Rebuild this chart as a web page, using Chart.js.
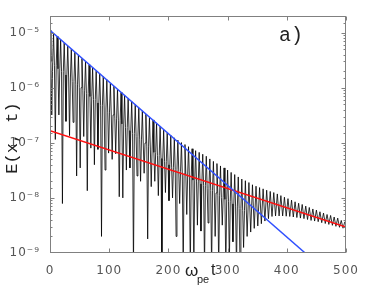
<!DOCTYPE html>
<html>
<head>
<meta charset="utf-8">
<script src="https://cdn.jsdelivr.net/npm/chart.js@4.4.0/dist/chart.umd.min.js"></script>
<style>
html,body{margin:0;padding:0;background:#fff;}
#wrap{width:381px;height:307px;}
</style>
</head>
<body>
<div id="wrap"><canvas id="fieldChart" width="381" height="307"></canvas></div>
<script>
// |E(x,t)|: hump tops, dips between them,
// and the level where each dip leaves the dark band (early part only)
const peakT = [
0,6,12,18,24,30,36,42,48,54,
60,66,72,78,84,90,96,102,108,114,
120,126,132,138,144,150,156,162,168,174,
180,186,192,198,204,210,216,222,228,234,
240,246,252,258,264,270,276,282,288,294,
300,306,312,318,324,330,336,342,348,354,
360,366,372,378,384,390,396,402,408,414,
420,426,432,438,444,450,456,462,468,474,
480,486,492,498
];
const peakE = [
1.10e-5,9.6e-6,8.5e-6,7.4e-6,6.5e-6,5.7e-6,5.0e-6,4.4e-6,3.9e-6,3.4e-6,
3.0e-6,2.6e-6,2.3e-6,2.0e-6,1.8e-6,1.6e-6,1.4e-6,1.2e-6,1.07e-6,9.4e-7,
8.2e-7,7.2e-7,6.4e-7,5.6e-7,4.9e-7,4.3e-7,3.8e-7,3.3e-7,2.9e-7,2.6e-7,
2.3e-7,2.0e-7,1.7e-7,1.5e-7,1.37e-7,1.23e-7,1.12e-7,1.01e-7,9.3e-8,8.5e-8,
7.8e-8,7.2e-8,6.7e-8,6.2e-8,5.7e-8,5.1e-8,4.6e-8,4.2e-8,3.8e-8,3.5e-8,
3.2e-8,2.9e-8,2.65e-8,2.4e-8,2.2e-8,2.05e-8,1.9e-8,1.73e-8,1.63e-8,1.54e-8,
1.46e-8,1.38e-8,1.31e-8,1.25e-8,1.18e-8,1.10e-8,1.03e-8,9.7e-9,9.1e-9,8.5e-9,
8.0e-9,7.6e-9,7.1e-9,6.7e-9,6.3e-9,6.0e-9,5.6e-9,5.3e-9,5.0e-9,4.8e-9,
4.5e-9,4.3e-9,3.9e-9,3.7e-9
];
const dipT = [
3,9,15,21,27,33,39,45,51,57,
63,69,75,81,87,93,99,105,111,117,
123,129,135,141,147,153,159,165,171,177,
183,189,195,201,207,213,219,225,231,237,
243,249,255,261,267,273,279,285,291,297,
303,309,315,321,327,333,339,345,351,357,
363,369,375,381,387,393,399,405,411,417,
423,429,435,441,447,453,459,465,471,477,
483,489,495
];
const dipE = [
3.2e-7,1.15e-7,3.2e-7,7.9e-9,2.45e-7,1.35e-7,2.35e-7,2.5e-8,3.5e-8,1.3e-7,
1.35e-8,8.0e-8,4.0e-8,7.6e-8,2.0e-9,3.2e-8,6.5e-8,5.0e-8,6.3e-8,1.05e-8,
1.0e-8,3.2e-8,3.5e-8,5e-10,2.5e-8,2.0e-8,2.8e-8,1.8e-9,1.6e-8,2.0e-8,
1.1e-8,5e-10,1.25e-8,8.9e-9,1.0e-8,2.0e-9,7.9e-9,5e-10,5.0e-9,5e-10,
6e-10,3.2e-9,2.5e-9,5e-10,3.5e-9,5e-10,2.0e-9,5e-10,3.2e-9,5e-10,
7e-10,1.6e-9,5e-10,6e-10,1.26e-9,2.0e-9,2.4e-9,2.8e-9,3.1e-9,3.4e-9,
3.8e-9,4.2e-9,4.6e-9,4.7e-9,4.7e-9,4.7e-9,4.65e-9,4.6e-9,4.5e-9,4.4e-9,
4.3e-9,4.2e-9,4.05e-9,3.9e-9,3.8e-9,3.7e-9,3.55e-9,3.43e-9,3.3e-9,3.18e-9,
3.05e-9,2.93e-9,2.82e-9
];
const dipEdgeE = [
2.9e-6,2.5e-6,2.2e-6,1.95e-6,1.7e-6,1.5e-6,1.3e-6,1.16e-6,1.0e-6,9.0e-7,
7.9e-7,6.9e-7,6.1e-7,5.3e-7,4.7e-7,4.1e-7,3.6e-7,3.2e-7,2.8e-7,2.5e-7,
2.2e-7,1.9e-7,1.67e-7,1.47e-7,1.29e-7,1.13e-7,9.9e-8,8.7e-8,7.7e-8,6.7e-8,
5.9e-8,5.2e-8,4.6e-8,4.0e-8,3.6e-8,3.3e-8,3.0e-8,2.7e-8,2.5e-8,2.3e-8,
2.1e-8,1.95e-8,1.8e-8,1.67e-8,1.5e-8,1.36e-8,1.23e-8,1.12e-8,1.02e-8,9.4e-9,
8.5e-9,7.8e-9,7.1e-9,6.4e-9,5.9e-9
];
const dipHalfWidth = 1.5; // in omega_pe t

// fitted decay lines
const fastFitT = [0, 431];
const fastFitE = [1.1e-5, 1.0e-9];
const slowFitT = [0, 500];
const slowFitE = [1.66e-7, 2.95e-9];

const xTicks = [0, 100, 200, 300, 400, 500];

function signalPoints(){
let pts = [];
peakT.forEach((t,i)=>{
pts.push({x:t, y:peakE[i]});
if(i<dipT.length){
const edge = dipEdgeE[i];
if(edge!==undefined){
pts.push({x:dipT[i]-dipHalfWidth, y:edge});
pts.push({x:dipT[i], y:dipE[i]});
pts.push({x:dipT[i]+dipHalfWidth, y:edge});
}else{
pts.push({x:dipT[i], y:dipE[i]});
}
}
});
return pts;
}

function toPoints(ts, es){
return ts.map((t,i)=>({x:t, y:es[i]}));
}

const supMap = {'-':'\u207B','0':'\u2070','1':'\u00B9','2':'\u00B2','3':'\u00B3','4':'\u2074','5':'\u2075','6':'\u2076','7':'\u2077','8':'\u2078','9':'\u2079'};

function isDecade(v){
const l = Math.log10(v);
return Math.abs(l-Math.round(l))<1e-6;
}

const decor = {
id:'decor',
beforeDraw(chart){
chart.ctx.letterSpacing = '1px';
},
afterDraw(chart){
const ctx = chart.ctx;
const a = chart.chartArea;
const xs = chart.scales.x, ys = chart.scales.y;
ctx.save();
ctx.letterSpacing = '0px';
ctx.strokeStyle = '#808080';
ctx.lineWidth = 1;
const L = Math.round(a.left)+0.5, R = Math.round(a.right)-0.5;
const T = Math.round(a.top)+0.5, B = Math.round(a.bottom)-0.5;
ctx.strokeRect(L, T, R-L, B-T);
ctx.beginPath();
ys.ticks.forEach(tk=>{
const py = Math.round(ys.getPixelForValue(tk.value))+0.5;
if(py<T || py>B) return;
const len = isDecade(tk.value) ? 4 : 2;
ctx.moveTo(L, py); ctx.lineTo(L+len, py);
ctx.moveTo(R, py); ctx.lineTo(R-len, py);
});
xTicks.forEach(v=>{
const px = Math.round(xs.getPixelForValue(v))+0.5;
ctx.moveTo(px, B); ctx.lineTo(px, B-4);
ctx.moveTo(px, T); ctx.lineTo(px, T+4);
});
ctx.stroke();

ctx.fillStyle = '#222';
ctx.font = '20px "Liberation Mono"';
ctx.textBaseline = 'alphabetic';
ctx.textAlign = 'left';
ctx.fillText('a)', 279, 41);

ctx.save();
ctx.translate(12, 138);
ctx.rotate(-Math.PI/2);
ctx.font = '17px "Liberation Mono"';
ctx.textAlign = 'center';
ctx.textBaseline = 'middle';
ctx.fillText('E(x, t)', 0, 0);
ctx.restore();

ctx.textAlign = 'left';
ctx.font = '17px "Liberation Sans"';
ctx.fillText('\u03C9', 185, 276);
ctx.font = '11px "Liberation Sans"';
ctx.fillText('pe', 197, 283);
ctx.font = '16px "Liberation Sans"';
ctx.fillText('t', 211, 275);
ctx.restore();
}
};

const ctx = document.getElementById('fieldChart');

const chart = new Chart(ctx, {
type:'line',
data:{
datasets:[
{
label:'fast',
data:toPoints(fastFitT, fastFitE),
borderColor:'#3050ff',
borderWidth:1.5,
pointRadius:0,
order:0
},
{
label:'slow',
data:toPoints(slowFitT, slowFitE),
borderColor:'#ff1010',
borderWidth:1.5,
pointRadius:0,
order:1
},
{
label:'E',
data:signalPoints(),
borderColor:'rgba(0,0,0,0.8)',
borderWidth:1,
pointRadius:0,
order:2
}
]
},
options:{
responsive:false,
devicePixelRatio:1,
animation:false,
events:[],
layout:{padding:{top:16, right:35, left:0, bottom:0}},
plugins:{legend:{display:false}, tooltip:{enabled:false}},
elements:{line:{tension:0}},
scales:{
x:{
type:'linear',
min:0, max:500,
grid:{display:false},
border:{display:false},
afterFit:s=>{s.height = 54;},
afterBuildTicks:s=>{s.ticks = xTicks.map(v=>({value:v}));},
ticks:{
padding:3,
color:'#555',
font:{family:'DejaVu Sans', size:12},
maxRotation:0,
autoSkip:false
}
},
y:{
type:'logarithmic',
min:1e-9, max:2e-5,
grid:{display:false},
border:{display:false},
afterFit:s=>{s.width = 50;},
ticks:{
padding:2,
color:'#555',
autoSkip:false,
font:{family:'DejaVu Sans', size:12},
callback:v=>{
if(!isDecade(v)) return '';
const e = String(Math.round(Math.log10(v)));
return '10' + e.split('').map(c=>supMap[c]).join('');
}
}
}
}
},
plugins:[decor]
});
</script>
</body>
</html>
